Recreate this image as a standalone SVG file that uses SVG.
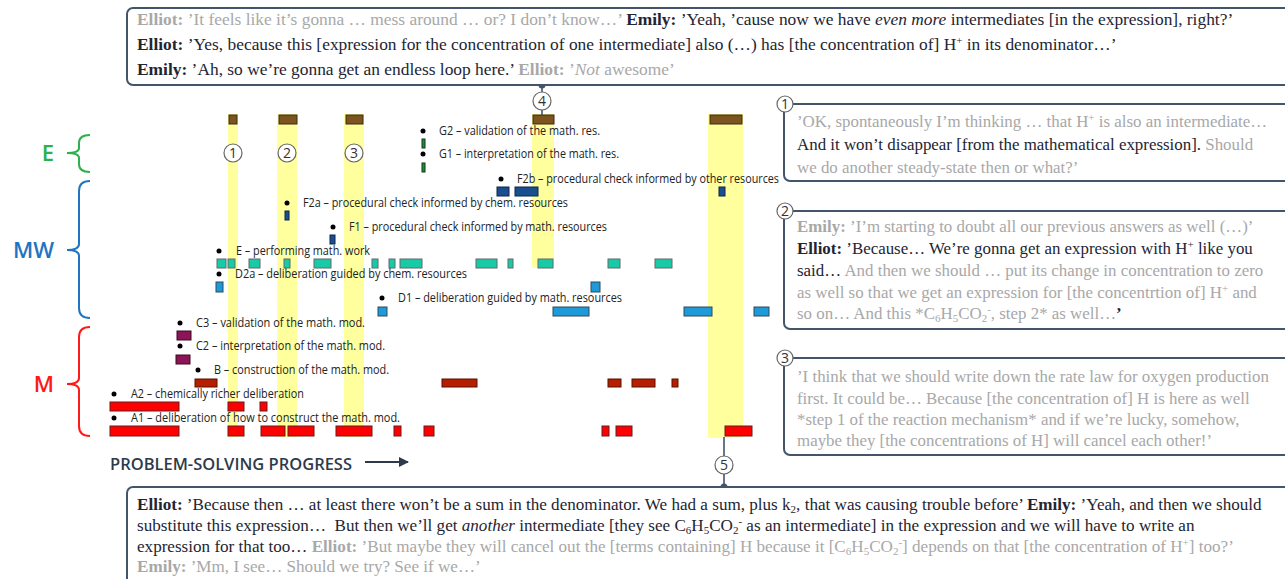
<svg xmlns="http://www.w3.org/2000/svg" width="1285" height="579" viewBox="0 0 1285 579">
<defs>
<style>
.ser{font-family:"Liberation Serif","Times New Roman",serif;font-size:17.4px}
.serr{font-family:"Liberation Serif","Times New Roman",serif;font-size:16.9px}
.ser16{font-family:"Liberation Serif","Times New Roman",serif;font-size:17.1px}
.g{fill:#a8a8a8}
.d{fill:#1e2533}
.b{font-weight:bold}
.i{font-style:italic}
.box{fill:#fff;stroke:#44546a;stroke-width:2}
.lbl{font-family:"Open Sans","Noto Sans",sans-serif;font-size:12px;fill:#222}
.dot{fill:#000}
.yl{fill:#ffff9e}
.br{fill:#7b5421;stroke:#3e2a0e}
.gr{fill:#1f8a3f;stroke:#0d3a18}
.fb{fill:#1a4f8f;stroke:#0c2746}
.te{fill:#19caa6;stroke:#5f6b6b}
.lb{fill:#1d9ad7;stroke:#2c4a60}
.pu{fill:#8a1557;stroke:#40091f}
.dr{fill:#b51f00;stroke:#561000}
.rd{fill:#ff0000;stroke:#6b1a1a}
.num{fill:#fff;stroke:#666;stroke-width:1.2}
.numt{font-family:"Open Sans","Noto Sans",sans-serif;font-size:14px;fill:#333;text-anchor:middle}
.con{stroke:#44546a;stroke-width:1.6;fill:none}
.brace{fill:none;stroke-width:2}
.grp{font-family:"Open Sans","Noto Sans",sans-serif;font-size:22px;font-weight:600;text-anchor:end}
</style>
<marker id="arr" viewBox="0 0 10 10" refX="9" refY="5" markerWidth="5" markerHeight="5" orient="auto"><path d="M0,0 L10,5 L0,10 z" fill="#2e3a4a"/></marker>
</defs>
<rect width="1285" height="579" fill="#fff"/>

<g id="highlights">
<rect class="yl" x="228" y="114" width="10" height="323"/>
<rect class="yl" x="277" y="114" width="20" height="323"/>
<rect class="yl" x="344" y="114" width="20" height="323"/>
<rect class="yl" x="532" y="114" width="22" height="154"/>
<rect class="yl" x="708" y="114" width="35" height="324"/>
</g>

<g id="group-E">
<path class="brace" stroke="#2bb24c" d="M90,135 Q79,135 79,143 L79,148 Q79,153 67,153 Q79,153 79,158 L79,164 Q79,172 90,172"/>
<text class="grp" x="54" y="161" fill="#2bb24c">E</text>
</g>
<g id="group-MW">
<path class="brace" stroke="#2274c2" d="M90,181 Q79,181 79,191 L79,244 Q79,250 67,250 Q79,250 79,256 L79,308 Q79,318 90,318"/>
<text class="grp" x="54" y="258" fill="#2274c2">MW</text>
</g>
<g id="group-M">
<path class="brace" stroke="#ff1a1a" d="M90,327 Q79,327 79,337 L79,378 Q79,384 67,384 Q79,384 79,390 L79,426 Q79,436 90,436"/>
<text class="grp" x="54" y="392" fill="#ff1a1a">M</text>
</g>

<g id="row-top">
<rect class="br" x="229" y="115" width="8" height="9"/>
<rect class="br" x="279" y="115" width="18" height="9"/>
<rect class="br" x="346" y="115" width="17" height="9"/>
<rect class="br" x="533" y="115" width="21" height="9"/>
<rect class="br" x="710" y="115" width="32" height="9"/>
</g>
<g id="row-G2">
<circle class="dot" cx="423" cy="131" r="2.5"/>
<text class="lbl" x="439" y="135" textLength="161" lengthAdjust="spacingAndGlyphs">G2 – validation of the math. res.</text>
<rect class="gr" x="422" y="139" width="3" height="9"/>
</g>
<g id="row-G1">
<circle class="dot" cx="423" cy="154" r="2.5"/>
<text class="lbl" x="439" y="158" textLength="180" lengthAdjust="spacingAndGlyphs">G1 – interpretation of the math. res.</text>
<rect class="gr" x="422" y="163" width="3" height="9"/>
</g>
<g id="row-F2b">
<circle class="dot" cx="501" cy="179" r="2.5"/>
<text class="lbl" x="517" y="183" textLength="262" lengthAdjust="spacingAndGlyphs">F2b – procedural check informed by other resources</text>
<rect class="fb" x="497" y="187" width="12" height="9"/>
<rect class="fb" x="515" y="187" width="23" height="9"/>
<rect class="fb" x="719" y="187" width="6" height="9"/>
</g>
<g id="row-F2a">
<circle class="dot" cx="287" cy="203" r="2.5"/>
<text class="lbl" x="303" y="207" textLength="265" lengthAdjust="spacingAndGlyphs">F2a – procedural check informed by chem. resources</text>
<rect class="fb" x="285" y="211" width="4" height="9"/>
</g>
<g id="row-F1">
<circle class="dot" cx="333" cy="227" r="2.5"/>
<text class="lbl" x="349" y="231" textLength="258" lengthAdjust="spacingAndGlyphs">F1 – procedural check informed by math. resources</text>
<rect class="fb" x="330" y="235" width="5" height="9"/>
</g>
<g id="row-E">
<circle class="dot" cx="219" cy="251" r="2.5"/>
<text class="lbl" x="236" y="255" textLength="134" lengthAdjust="spacingAndGlyphs">E – performing math. work</text>
<rect class="te" x="217" y="259" width="9" height="9"/>
<rect class="te" x="228" y="259" width="7" height="9"/>
<rect class="te" x="249" y="259" width="11" height="9"/>
<rect class="te" x="284" y="259" width="6" height="9"/>
<rect class="te" x="314" y="259" width="17" height="9"/>
<rect class="te" x="372" y="259" width="6" height="9"/>
<rect class="te" x="389" y="259" width="6" height="9"/>
<rect class="te" x="400" y="259" width="22" height="9"/>
<rect class="te" x="476" y="259" width="21" height="9"/>
<rect class="te" x="508" y="259" width="5" height="9"/>
<rect class="te" x="538" y="259" width="15" height="9"/>
<rect class="te" x="608" y="259" width="12" height="9"/>
<rect class="te" x="655" y="259" width="17" height="9"/>
</g>
<g id="row-D2a">
<circle class="dot" cx="219" cy="274" r="2.5"/>
<text class="lbl" x="235" y="278" textLength="232" lengthAdjust="spacingAndGlyphs">D2a – deliberation guided by chem. resources</text>
<rect class="lb" x="216" y="282" width="7" height="10"/>
<rect class="lb" x="591" y="282" width="9" height="10"/>
</g>
<g id="row-D1">
<circle class="dot" cx="382" cy="298" r="2.5"/>
<text class="lbl" x="398" y="302" textLength="224" lengthAdjust="spacingAndGlyphs">D1 – deliberation guided by math. resources</text>
<rect class="lb" x="378" y="307" width="9" height="9"/>
<rect class="lb" x="553" y="307" width="36" height="9"/>
<rect class="lb" x="684" y="307" width="28" height="9"/>
<rect class="lb" x="754" y="307" width="15" height="9"/>
</g>
<g id="row-C3">
<circle class="dot" cx="180" cy="323" r="2.5"/>
<text class="lbl" x="196" y="327" textLength="169" lengthAdjust="spacingAndGlyphs">C3 – validation of the math. mod.</text>
<rect class="pu" x="177" y="331" width="14" height="9"/>
</g>
<g id="row-C2">
<circle class="dot" cx="180" cy="346" r="2.5"/>
<text class="lbl" x="196" y="350" textLength="189" lengthAdjust="spacingAndGlyphs">C2 – interpretation of the math. mod.</text>
<rect class="pu" x="176" y="355" width="14" height="9"/>
</g>
<g id="row-B">
<circle class="dot" cx="198" cy="370" r="2.5"/>
<text class="lbl" x="214" y="374" textLength="175" lengthAdjust="spacingAndGlyphs">B – construction of the math. mod.</text>
<rect class="dr" x="195" y="379" width="22" height="8"/>
<rect class="dr" x="442" y="379" width="35" height="8"/>
<rect class="dr" x="608" y="379" width="13" height="8"/>
<rect class="dr" x="632" y="379" width="23" height="8"/>
<rect class="dr" x="672" y="379" width="6" height="8"/>
</g>
<g id="row-A2">
<circle class="dot" cx="114" cy="394" r="2.5"/>
<text class="lbl" x="131" y="398" textLength="173" lengthAdjust="spacingAndGlyphs">A2 – chemically richer deliberation</text>
<rect class="rd" x="110" y="402" width="69" height="9"/>
<rect class="rd" x="228" y="402" width="16" height="9"/>
<rect class="rd" x="260" y="402" width="7" height="9"/>
</g>
<g id="row-A1">
<circle class="dot" cx="114" cy="418" r="2.5"/>
<text class="lbl" x="131" y="422" textLength="269" lengthAdjust="spacingAndGlyphs">A1 – deliberation of how to construct the math. mod.</text>
<rect class="rd" x="110" y="426" width="69" height="10"/>
<rect class="rd" x="228" y="426" width="16" height="10"/>
<rect class="rd" x="261" y="426" width="24" height="10"/>
<rect class="rd" x="288" y="426" width="26" height="10"/>
<rect class="rd" x="336" y="426" width="36" height="10"/>
<rect class="rd" x="394" y="426" width="7" height="10"/>
<rect class="rd" x="424" y="426" width="10" height="10"/>
<rect class="rd" x="602" y="426" width="7" height="10"/>
<rect class="rd" x="616" y="426" width="16" height="10"/>
<rect class="rd" x="725" y="426" width="27" height="10"/>
</g>

<g id="markers">
<circle class="num" cx="233" cy="153" r="9"/><text class="numt" x="233" y="158">1</text>
<circle class="num" cx="287" cy="153" r="9"/><text class="numt" x="287" y="158">2</text>
<circle class="num" cx="354" cy="153" r="9"/><text class="numt" x="354" y="158">3</text>
</g>

<g id="axis">
<text x="110" y="470" font-family="'Open Sans','Noto Sans',sans-serif" font-size="17" font-weight="600" fill="#2e3a4a" textLength="242" lengthAdjust="spacingAndGlyphs">PROBLEM-SOLVING PROGRESS</text>
<line x1="365" y1="462" x2="408" y2="462" stroke="#2e3a4a" stroke-width="2" marker-end="url(#arr)"/>
</g>

<g id="connectors">
<line class="con" x1="542" y1="85" x2="542" y2="92"/>
<line class="con" x1="542" y1="110" x2="542" y2="115"/>
<circle cx="542" cy="85" r="3.5" fill="#44546a"/>
<line class="con" x1="724" y1="437" x2="724" y2="456"/>
<line class="con" x1="724" y1="474" x2="724" y2="487"/>
<circle cx="724" cy="487" r="3.5" fill="#44546a"/>
</g>
<g id="connector-markers">
<circle class="num" cx="542" cy="101" r="9"/><text class="numt" x="542" y="106">4</text>
<circle class="num" cx="724" cy="465" r="9"/><text class="numt" x="724" y="470">5</text>
</g>

<g id="quote-4">
<rect class="box" x="127" y="8" width="1180" height="77" rx="6"/>
<text class="ser" x="137" y="25"><tspan class="g"><tspan class="b">Elliot:</tspan> ’It feels like it’s gonna … mess around … or? I don’t know…’</tspan><tspan class="d"> <tspan class="b">Emily:</tspan> ’Yeah, ’cause now we have <tspan class="i">even more</tspan> intermediates [in the expression], right?’</tspan></text>
<text class="ser d" x="137" y="50"><tspan class="b">Elliot:</tspan> ’Yes, because this [expression for the concentration of one intermediate] also (…) has [the concentration of] H<tspan font-size="11" baseline-shift="super">+</tspan> in its denominator…’</text>
<text class="ser" x="137" y="75"><tspan class="d"><tspan class="b">Emily:</tspan> ’Ah, so we’re gonna get an endless loop here.’</tspan><tspan class="g"> <tspan class="b">Elliot:</tspan> ’<tspan class="i">Not</tspan> awesome’</tspan></text>
</g>

<g id="quote-1">
<rect class="box" x="784" y="104" width="520" height="77" rx="6"/>
<circle class="num" cx="785" cy="104" r="8" stroke="#44546a"/><text class="numt" x="785" y="108.5" font-size="12">1</text>
<text class="serr g" x="797" y="127">’OK, spontaneously I’m thinking … that H<tspan font-size="11" baseline-shift="super">+</tspan> is also an intermediate…</text>
<text class="serr" x="797" y="150"><tspan class="d">And it won’t disappear [from the mathematical expression].</tspan><tspan class="g"> Should</tspan></text>
<text class="serr g" x="797" y="173">we do another steady-state then or what?’</text>
</g>

<g id="quote-2">
<rect class="box" x="784" y="211" width="520" height="118" rx="6"/>
<circle class="num" cx="785" cy="211" r="8" stroke="#44546a"/><text class="numt" x="785" y="215.5" font-size="12">2</text>
<text class="serr g" x="797" y="232"><tspan class="b">Emily:</tspan> ’I’m starting to doubt all our previous answers as well (…)’</text>
<text class="serr d" x="797" y="254"><tspan class="b">Elliot:</tspan> ’Because… We’re gonna get an expression with H<tspan font-size="11" baseline-shift="super">+</tspan> like you</text>
<text class="serr" x="797" y="276"><tspan class="d">said…</tspan><tspan class="g"> And then we should … put its change in concentration to zero</tspan></text>
<text class="serr g" x="797" y="298">as well so that we get an expression for [the concentrtion of] H<tspan font-size="11" baseline-shift="super">+</tspan> and</text>
<text class="serr g" x="797" y="319">so on… And this *C<tspan font-size="11" baseline-shift="-3">6</tspan>H<tspan font-size="11" baseline-shift="-3">5</tspan>CO<tspan font-size="11" baseline-shift="-3">2</tspan><tspan font-size="11" baseline-shift="super">-</tspan>, step 2* as well…<tspan class="d b">’</tspan></text>
</g>

<g id="quote-3">
<rect class="box" x="784" y="358" width="520" height="97" rx="6"/>
<circle class="num" cx="785" cy="358" r="8" stroke="#44546a"/><text class="numt" x="785" y="362.5" font-size="12">3</text>
<text class="serr g" x="797" y="382">’I think that we should write down the rate law for oxygen production</text>
<text class="serr g" x="797" y="404">first. It could be… Because [the concentration of] H is here as well</text>
<text class="serr g" x="797" y="425">*step 1 of the reaction mechanism* and if we’re lucky, somehow,</text>
<text class="serr g" x="797" y="446">maybe they [the concentrations of H] will cancel each other!’</text>
</g>

<g id="quote-5">
<rect class="box" x="127" y="487" width="1180" height="120" rx="6"/>
<text class="ser16 d" x="137" y="510"><tspan class="b">Elliot:</tspan> ’Because then … at least there won’t be a sum in the denominator. We had a sum, plus k<tspan font-size="11" baseline-shift="-3">2</tspan>, that was causing trouble before’ <tspan class="b">Emily:</tspan> ’Yeah, and then we should</text>
<text class="ser16 d" x="137" y="531">substitute this expression… &#160;But then we’ll get <tspan class="i">another</tspan> intermediate [they see C<tspan font-size="11" baseline-shift="-3">6</tspan>H<tspan font-size="11" baseline-shift="-3">5</tspan>CO<tspan font-size="11" baseline-shift="-3">2</tspan><tspan font-size="11" baseline-shift="super">-</tspan> as an intermediate] in the expression and we will have to write an</text>
<text class="ser16" x="137" y="552"><tspan class="d">expression for that too…</tspan><tspan class="g"> <tspan class="b">Elliot:</tspan> ’But maybe they will cancel out the [terms containing] H because it [C<tspan font-size="11" baseline-shift="-3">6</tspan>H<tspan font-size="11" baseline-shift="-3">5</tspan>CO<tspan font-size="11" baseline-shift="-3">2</tspan><tspan font-size="11" baseline-shift="super">-</tspan>] depends on that [the concentration of H<tspan font-size="11" baseline-shift="super">+</tspan>] too?’</tspan></text>
<text class="ser16 g" x="137" y="572"><tspan class="b">Emily:</tspan> ’Mm, I see… Should we try? See if we…’</text>
</g>
</svg>
